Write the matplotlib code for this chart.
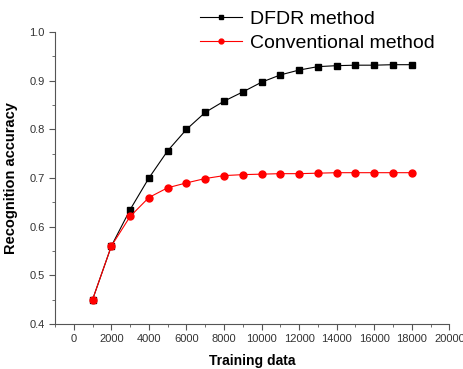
import matplotlib.pyplot as plt
from matplotlib.ticker import MultipleLocator

plt.rcParams['font.family'] = ['Liberation Sans', 'DejaVu Sans']

train = [1000, 2000, 3000, 4000, 5000, 6000, 7000, 8000, 9000,
         10000, 11000, 12000, 13000, 14000, 15000, 16000, 17000, 18000]
dfdr = [0.45, 0.56, 0.635, 0.70, 0.756, 0.80, 0.835, 0.858, 0.877,
        0.897, 0.912, 0.922, 0.929, 0.931, 0.932, 0.932, 0.933, 0.933]
conv = [0.45, 0.56, 0.621, 0.66, 0.68, 0.69, 0.699, 0.705, 0.707,
        0.708, 0.709, 0.709, 0.710, 0.711, 0.711, 0.711, 0.711, 0.711]

fig = plt.figure(figsize=(4.64, 3.69), dpi=100)
ax = fig.add_axes([0.1185, 0.122, 0.85, 0.791])

ax.plot(train, dfdr, color='black', marker='s', markersize=5, linewidth=0.8, label='DFDR method')
ax.plot(train, conv, color='red', marker='o', markersize=5, linewidth=0.8, label='Conventional method')

ax.set_xlim(-1000, 20000)
ax.set_ylim(0.4, 1.0)
ax.xaxis.set_major_locator(MultipleLocator(2000))
ax.xaxis.set_minor_locator(MultipleLocator(1000))
ax.yaxis.set_major_locator(MultipleLocator(0.1))
ax.yaxis.set_minor_locator(MultipleLocator(0.05))
ax.yaxis.set_major_formatter(plt.FormatStrFormatter('%.1f'))

for s in ['top', 'right']:
    ax.spines[s].set_visible(False)
for s in ['left', 'bottom']:
    ax.spines[s].set_color('#555555')
ax.tick_params(which='both', direction='out', color='#555555', labelsize=8, labelcolor='#333333')
ax.tick_params(which='major', length=4)
ax.tick_params(which='minor', length=2.5)

ax.set_xlabel('Training data', fontsize=10, fontweight='bold', labelpad=7)
ax.set_ylabel('Recognition accuracy', fontsize=10.5, fontweight='bold', labelpad=8)

fig.legend(*ax.get_legend_handles_labels(), loc='upper left',
           bbox_to_anchor=(200 / 464, 1 - 10 / 369), frameon=False, fontsize=14,
           handlelength=2.15, handletextpad=0.4, labelspacing=0.35, borderaxespad=0,
           borderpad=0, markerscale=0.7)

fig.savefig('out.png', dpi=100)
